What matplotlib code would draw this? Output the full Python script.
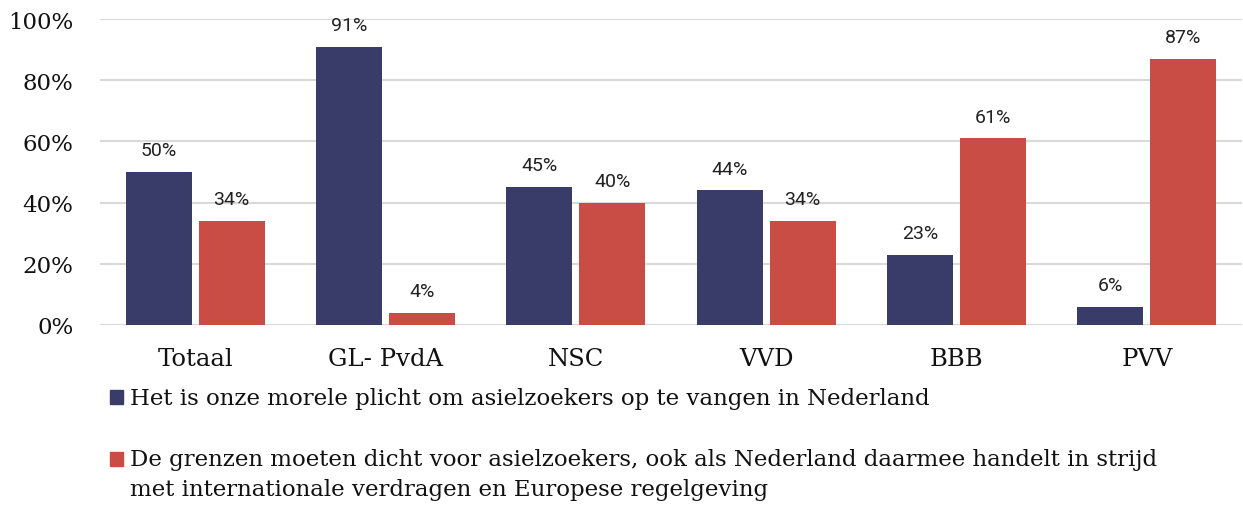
import matplotlib.pyplot as plt
from matplotlib.patches import Rectangle

# data
categories = ['Totaal', 'GL- PvdA', 'NSC', 'VVD', 'BBB', 'PVV']
moral_duty = [50, 91, 45, 44, 23, 6]
close_borders = [34, 4, 40, 34, 61, 87]
legend_labels = ['Het is onze morele plicht om asielzoekers op te vangen in Nederland',
                 'De grenzen moeten dicht voor asielzoekers, ook als Nederland daarmee handelt in strijd\n'
                 'met internationale verdragen en Europese regelgeving']

navy = '#393c68'
red = '#ca4d45'
serif = 'DejaVu Serif'

fig = plt.figure(figsize=(12.43, 5.06), dpi=100)
ax = fig.add_axes([100 / 1243, 1 - 326 / 506, 1142 / 1243, 306 / 506])

w = 0.347
off = 0.192
x = list(range(len(categories)))
b1 = ax.bar([i - off for i in x], moral_duty, w, color=navy, zorder=3)
b2 = ax.bar([i + off for i in x], close_borders, w, color=red, zorder=3)

for bars, vals in ((b1, moral_duty), (b2, close_borders)):
    for b, v in zip(bars, vals):
        ax.text(b.get_x() + b.get_width() / 2, v + 5.5, f'{v}%', ha='center', va='baseline',
                fontsize=14, family='Roboto', color='#222222')

ax.set_xlim(-0.5, 5.5)
ax.set_ylim(0, 100)
ax.set_yticks(range(0, 101, 20))
ax.set_yticklabels([f'{t}%' for t in range(0, 101, 20)], family=serif, fontsize=16.5)
ax.set_xticks(x)
ax.set_xticklabels(categories, family=serif, fontsize=17.5)
ax.tick_params(axis='both', length=0, colors='#111111')
ax.tick_params(axis='y', pad=19)
ax.tick_params(axis='x', pad=15.5)
ax.grid(axis='y', color='#d9d9d9', linewidth=1.5, zorder=0)
for s in ax.spines.values():
    s.set_visible(False)

# legend
fig.patches.append(Rectangle((110 / 1243, 1 - 405 / 506), 13 / 1243, 14 / 506,
                             transform=fig.transFigure, color=navy, figure=fig))
fig.text(130 / 1243, 1 - 399 / 506, legend_labels[0], family=serif, fontsize=16.5,
         va='center', color='#111111')
fig.patches.append(Rectangle((110 / 1243, 1 - 467 / 506), 13 / 1243, 14 / 506,
                             transform=fig.transFigure, color=red, figure=fig))
fig.text(130 / 1243, 1 - 449 / 506, legend_labels[1], family=serif, fontsize=16.5,
         va='top', color='#111111', linespacing=1.45)

fig.savefig('out.png', dpi=100)
